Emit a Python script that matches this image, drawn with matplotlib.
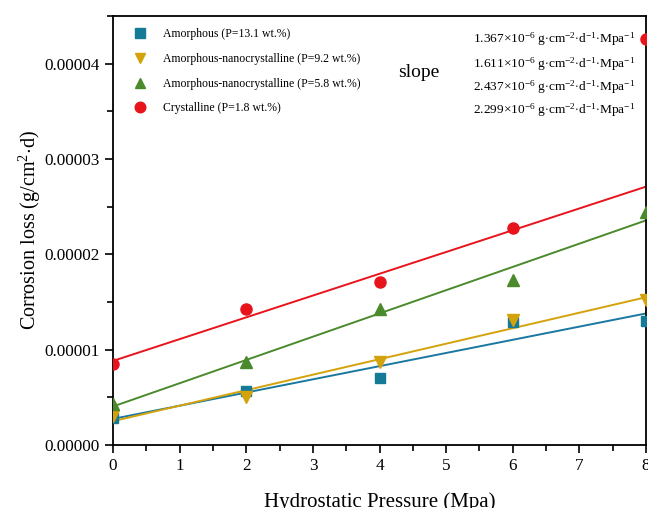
import numpy as np
import matplotlib
matplotlib.use("Agg")
import matplotlib.pyplot as plt
from matplotlib.ticker import MultipleLocator, FormatStrFormatter

plt.rcParams['font.family'] = ['Liberation Serif', 'DejaVu Serif']
plt.rcParams['mathtext.fontset'] = 'custom'
plt.rcParams['mathtext.rm'] = 'Liberation Serif'
plt.rcParams['mathtext.it'] = 'Liberation Serif:italic'

pressure = [0, 2, 4, 6, 8]
amorphous = [2.8e-6, 5.65e-6, 7.0e-6, 1.29e-5, 1.30e-5]
amor_nano_92 = [3.0e-6, 5.0e-6, 8.7e-6, 1.31e-5, 1.52e-5]
amor_nano_58 = [4.3e-6, 8.7e-6, 1.43e-5, 1.73e-5, 2.44e-5]
crystalline = [8.5e-6, 1.43e-5, 1.71e-5, 2.28e-5, 4.26e-5]

labels = ["Amorphous (P=13.1 wt.%)",
          "Amorphous-nanocrystalline (P=9.2 wt.%)",
          "Amorphous-nanocrystalline (P=5.8 wt.%)",
          "Crystalline (P=1.8 wt.%)"]
slopes = ["1.367", "1.611", "2.437", "2.299"]
fit_points = [5, 5, 5, 4]  # number of points used in each fit

series = [amorphous, amor_nano_92, amor_nano_58, crystalline]
colors = ["#147a96", "#d4a20a", "#4b8a2c", "#e8141c"]
line_colors = ["#1a78a0", "#d4a20a", "#4b8a2c", "#e8141c"]
markers = ["s", "v", "^", "o"]
msizes = [7, 8, 8, 8]

fig = plt.figure(figsize=(6.48, 5.08), dpi=100)
ax = fig.add_axes([113/648, 1-445/508, 533/648, 429/508])

x = np.array(pressure, dtype=float)
xx = np.linspace(0, 8, 50)
handles = []
for s, c, lc, m, ms, lab, n in zip(series, colors, line_colors, markers, msizes, labels, fit_points):
    y = np.array(s)
    k, b = np.polyfit(x[:n], y[:n], 1)
    ax.plot(xx, k*xx + b, color=lc, lw=1.4, zorder=2)
    h, = ax.plot(x, y, linestyle='none', marker=m, ms=ms, color=c, mec=c, label=lab, zorder=3)
    handles.append(h)

ax.set_xlim(0, 8)
ax.set_ylim(0, 4.5e-5)
ax.xaxis.set_major_locator(MultipleLocator(1))
ax.xaxis.set_minor_locator(MultipleLocator(0.5))
ax.yaxis.set_major_locator(MultipleLocator(1e-5))
ax.yaxis.set_minor_locator(MultipleLocator(0.5e-5))
ax.yaxis.set_major_formatter(FormatStrFormatter('%.5f'))
ax.tick_params(which='both', direction='out', top=False, right=False, labelsize=12.3, width=1.2)
ax.tick_params(which='major', length=6)
ax.tick_params(which='minor', length=4)
for sp in ax.spines.values():
    sp.set_linewidth(1.3)

ax.set_xlabel("Hydrostatic Pressure (Mpa)", fontsize=15, labelpad=13)
ax.set_ylabel("Corrosion loss (g/cm$^{2}$$\\cdot$d)", fontsize=14.5, labelpad=1)

leg = ax.legend(handles=handles, loc='upper left', bbox_to_anchor=(0.01, 0.993),
                frameon=False, fontsize=8.5, labelspacing=1.07, handletextpad=1.0,
                markerscale=0.95, borderaxespad=0.4)

ax.text(0.535, 0.869, "slope", transform=ax.transAxes, fontsize=14, va='center', ha='left')
ys = [0.945, 0.888, 0.834, 0.780]
for sl, yy in zip(slopes, ys):
    ax.text(0.675, yy, sl + "$\\times$10$^{-6}$ g$\\cdot$cm$^{-2}$$\\cdot$d$^{-1}$$\\cdot$Mpa$^{-1}$",
            transform=ax.transAxes, fontsize=9.6, va='center', ha='left')

fig.savefig("out.png", dpi=100)
